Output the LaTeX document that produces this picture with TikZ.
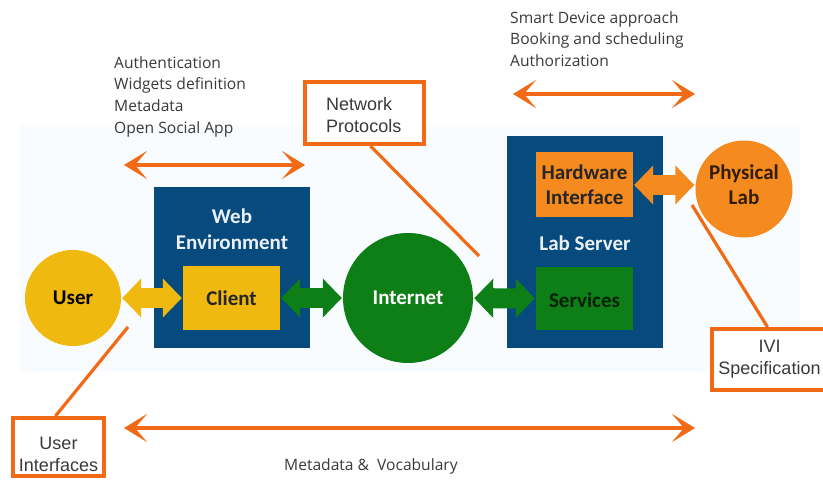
\documentclass[tikz,border=0pt]{standalone}
\usepackage{fontspec}
\setmainfont{Carlito}
\newfontfamily\notefont{Open Sans}
\newfontfamily\boxfont{Liberation Sans}
\usetikzlibrary{arrows.meta}
\definecolor{navy}{HTML}{074A7E}
\definecolor{gold}{HTML}{EFB90F}
\definecolor{leaf}{HTML}{0E7F16}
\definecolor{amber}{HTML}{F58A1F}
\definecolor{callout}{HTML}{F36A16}
\definecolor{wash}{HTML}{F8FCFE}
\definecolor{inktext}{HTML}{3A3A3A}
\tikzset{
  panel/.style={fill=navy,draw=none,minimum width=#1,anchor=north west,inner sep=0pt},
  inner/.style={draw=none,inner sep=0pt,minimum width=97pt,font=\fontsize{21}{25}\selectfont\bfseries,text=black!85,align=center},
  disc/.style={circle,draw=none,inner sep=0pt,minimum size=#1,font=\fontsize{21}{25}\selectfont\bfseries,align=center},
  paneltitle/.style={text=white!92!navy,font=\fontsize{21}{25}\selectfont\bfseries,align=center,inner sep=0pt},
  dbl/.style={line width=20pt,{Triangle[width=38pt,length=19pt]}-{Triangle[width=38pt,length=19pt]},shorten <=1pt,shorten >=1pt},
  span/.style={line width=4.5pt,callout,{Stealth[width=28pt,length=23pt,inset=12pt]}-{Stealth[width=28pt,length=23pt,inset=12pt]}},
  lead/.style={line width=3.2pt,callout},
  calloutbox/.style={draw=callout,line width=4pt,fill=white,inner sep=0pt,font=\boxfont\fontsize{18}{22}\selectfont,text=inktext,align=center},
  note/.style={inner sep=0pt,font=\notefont\fontsize{15.6}{21.7}\selectfont,text=inktext,align=left,anchor=north west}
}
\begin{document}
\begin{tikzpicture}[x=1pt,y=-1pt]
\useasboundingbox (0,0) rectangle (823,480);
\fill[white] (0,0) rectangle (823,480);
\fill[wash] (20,125) rectangle (800,372);

\node[panel=156pt,minimum height=161pt] (web) at (154,187) {};
\node[panel=156pt,minimum height=212pt] (lab) at (507,136) {};
\node[paneltitle] (webtitle) at (232,229) {Web\\[1pt]Environment};
\node[paneltitle] (labtitle) at (585,243) {Lab Server};

\node[inner,fill=gold,minimum height=64pt] (client) at (231.5,298) {Client};
\node[inner,fill=amber,minimum height=65pt] (hw) at (584.5,184.5) {Hardware\\Interface};
\node[inner,fill=leaf,minimum height=63pt,text=black!75!leaf] (services) at (584.5,298.5) {\\[-7pt]Services};

\node[disc=96pt,fill=gold] (user) at (73,298) {User};
\node[disc=130pt,fill=leaf,text=white] (internet) at (408,298) {Internet};
\node[disc=97pt,fill=amber,text=black!80!amber] (phys) at (744,189) {Physical\\Lab\\[-17pt]\mbox{}};

\draw[dbl,gold] (user) -- (client);
\draw[dbl,leaf] (client) -- (internet);
\draw[dbl,leaf] (internet) -- (services);
\draw[dbl,amber] (hw.east |- 0,185) -- (phys.west |- 0,185);

\node[calloutbox,minimum width=91pt,minimum height=58pt] (ui) at (58.5,447) {\\[6pt]User\\Interfaces};
\node[calloutbox,minimum width=119pt,minimum height=62pt,align=left] (np) at (364.5,113) {\\[-4pt]\hspace*{-1.5pt}Network\\\hspace*{-1.5pt}Protocols};
\node[calloutbox,minimum width=115pt,minimum height=61pt] (ivi) at (769.5,359.5) {IVI\\Specification};

\coordinate (uitip) at (128,327);
\coordinate (nptip) at (479,256);
\coordinate (ivitip) at (692,205);
\draw[lead] (ui.north) ++(-3,0) -- (uitip);
\draw[lead] (np.south) ++(6,0) -- (nptip);
\draw[lead] (ivi.north) ++(-2,0) -- (ivitip);

\coordinate (a1) at (124,165); \coordinate (a2) at (305,165);
\coordinate (b1) at (513,94);  \coordinate (b2) at (695,94);
\coordinate (c1) at (124,428); \coordinate (c2) at (695,428);
\draw[span] (a1) -- (a2);
\draw[span] (b1) -- (b2);
\draw[span] (c1) -- (c2);

\node[note] (leftnote) at (114,56) {Authentication\\Widgets definition\\Metadata\\Open Social App};
\node[note] (rightnote) at (510,11) {Smart Device approach\\Booking and scheduling\\Authorization};
\node[note] (bottomnote) at (284,458) {Metadata \&\ \ Vocabulary};
\end{tikzpicture}
\end{document}
